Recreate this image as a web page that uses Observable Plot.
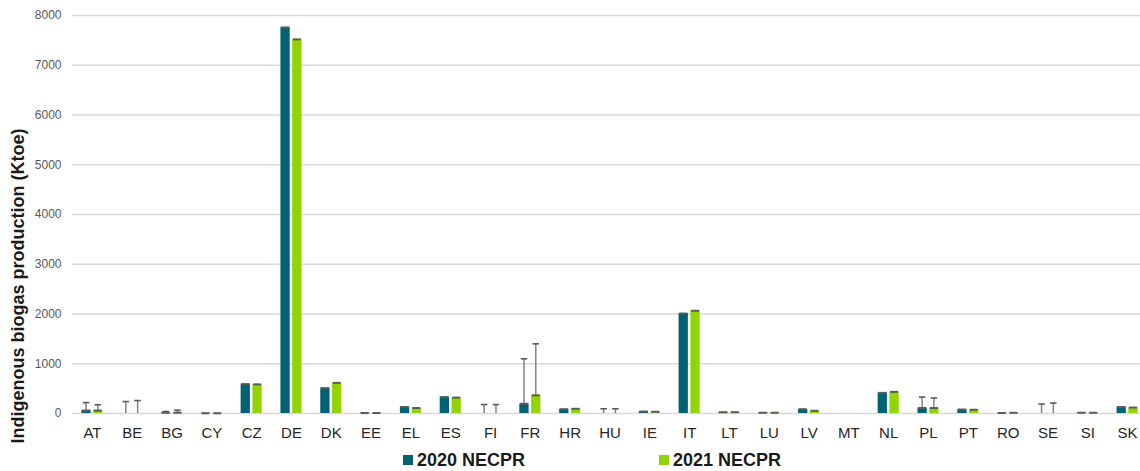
<!DOCTYPE html>
<html><head><meta charset="utf-8">
<script src="https://cdn.jsdelivr.net/npm/d3@7"></script>
<script src="https://cdn.jsdelivr.net/npm/@observablehq/plot@0.6"></script>
<style>
html,body{margin:0;padding:0;background:#fff;overflow:hidden;width:1140px;height:471px}
#chart{width:1140px;overflow:hidden}
#chart svg{display:block;max-width:none !important;height:447px !important}
[aria-label^="x-axis"] text{font-size:15px;fill:#262626}
[aria-label^="y-axis"] text{font-size:12px;fill:#595959}
#legend{position:relative;height:24px;font-family:"Liberation Sans",Arial,sans-serif;font-weight:bold;font-size:18px;color:#1a1a1a}
.item{position:absolute;top:1px;display:flex;align-items:center;height:24px;white-space:nowrap}
.sw{width:10px;height:10px;margin-right:4px}
</style></head><body>
<div id="chart"></div>
<div id="legend"></div>
<script>
const countries = ["AT","BE","BG","CY","CZ","DE","DK","EE","EL","ES","FI","FR","HR","HU","IE","IT","LT","LU","LV","MT","NL","PL","PT","RO","SE","SI","SK"];
const series = ["2020 NECPR","2021 NECPR"];
const v2020 = [60,0,15,5,590,7760,510,10,130,330,0,195,85,0,40,2010,25,15,85,0,415,110,80,10,0,15,130];
const v2021 = [60,0,15,5,585,7520,615,10,110,320,0,365,95,0,35,2065,25,15,55,0,435,110,75,15,0,15,120];
const top2020 = [220,240,40,5,590,7760,510,10,130,330,180,1100,85,95,40,2010,25,15,85,0,415,330,80,10,190,15,130];
const top2021 = [175,260,65,5,585,7520,615,10,110,320,180,1400,95,95,35,2065,25,15,55,0,435,310,75,15,210,15,120];
const yTicks = [0,1000,2000,3000,4000,5000,6000,7000,8000];
const colors = ["#006373","#92d400"];
const yLabel = "Indigenous biogas production (Ktoe)";

const rows = countries.flatMap((c, i) => [
  {country: c, series: series[0], value: v2020[i], top: top2020[i], s: 0},
  {country: c, series: series[1], value: v2021[i], top: top2021[i], s: 1}
]);

const BW = 21.1, BAR = 9.3;
function marksFor(s) {
  const d = rows.filter(r => r.s === s);
  const off = s ? BW - BAR : 0;
  const L = (a) => off + a, R = (b) => BW - off - b;
  return [
    Plot.barY(d, {x: "country", y: "value", fill: "series", insetLeft: L(0), insetRight: R(BAR)}),
    Plot.barY(d.filter(r => r.top > r.value), {x: "country", y1: "value", y2: "top", fill: "#858585",
      insetLeft: L(3.9), insetRight: R(5.4)}),
    Plot.tickY(d.filter(r => r.top > r.value), {x: "country", y: "top", stroke: "#5a5a5a", strokeWidth: 1.6,
      insetLeft: L(1.4), insetRight: R(7.9)}),
    Plot.tickY(d.filter(r => r.value > 0), {x: "country", y: "value", stroke: "#5a5a5a", strokeWidth: 2,
      insetLeft: L(0.7), insetRight: R(8.6)})
  ];
}

const chart = Plot.plot({
  width: 1147, height: 447,
  marginLeft: 72, marginRight: 0, marginTop: 15, marginBottom: 34,
  x: {type: "band", domain: countries, paddingInner: 0.47, paddingOuter: 0.235, round: false, label: null, tickSize: 0, tickPadding: 14},
  y: {domain: [0, 8000], ticks: yTicks, tickSize: 0, tickPadding: 11, label: null, tickFormat: "d"},
  color: {domain: series, range: colors},
  style: {fontFamily: "'Liberation Sans', Arial, sans-serif", fontSize: "12px", background: "white"},
  marks: [
    Plot.ruleY(yTicks, {stroke: "#d9d9d9", strokeWidth: 1.3}),
    ...marksFor(0),
    ...marksFor(1),
    Plot.text([yLabel], {text: d => d, frameAnchor: "bottom-left", textAnchor: "start", rotate: -90,
      dx: -54.5, dy: 30, lineAnchor: "middle", fontSize: 18, fontWeight: "bold", fill: "#1a1a1a"})
  ]
});
document.getElementById("chart").appendChild(chart);

const legend = document.getElementById("legend");
const lefts = [403, 659];
series.forEach((s, i) => {
  const it = document.createElement("div");
  it.className = "item";
  it.style.left = lefts[i] + "px";
  it.innerHTML = `<span class="sw" style="background:${colors[i]}"></span><span>${s}</span>`;
  legend.appendChild(it);
});
</script>
</body></html>
